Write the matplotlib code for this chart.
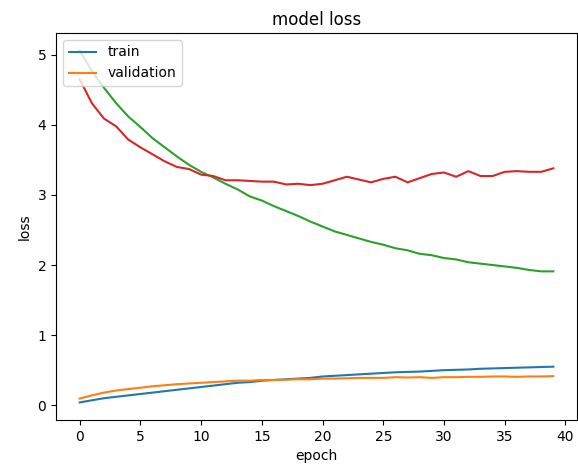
import matplotlib
matplotlib.use('Agg')
import matplotlib.pyplot as plt

epochs = list(range(40))
train = [0.04, 0.07, 0.10, 0.12, 0.14, 0.16, 0.18, 0.20, 0.22, 0.24,
         0.26, 0.28, 0.30, 0.32, 0.33, 0.35, 0.36, 0.37, 0.38, 0.39,
         0.41, 0.42, 0.43, 0.44, 0.45, 0.46, 0.47, 0.475, 0.48, 0.49,
         0.50, 0.505, 0.51, 0.52, 0.525, 0.53, 0.535, 0.54, 0.545, 0.55]
validation = [0.095, 0.14, 0.18, 0.21, 0.23, 0.25, 0.27, 0.285, 0.30, 0.31,
              0.32, 0.33, 0.34, 0.35, 0.35, 0.36, 0.36, 0.365, 0.37, 0.37,
              0.38, 0.38, 0.385, 0.39, 0.39, 0.39, 0.40, 0.395, 0.40, 0.39,
              0.40, 0.40, 0.405, 0.405, 0.41, 0.41, 0.405, 0.41, 0.41, 0.415]
loss_c = [5.06, 4.77, 4.53, 4.31, 4.12, 3.97, 3.81, 3.68, 3.55, 3.43,
          3.33, 3.25, 3.16, 3.08, 2.98, 2.92, 2.84, 2.77, 2.70, 2.62,
          2.55, 2.48, 2.43, 2.38, 2.33, 2.29, 2.24, 2.21, 2.16, 2.14,
          2.10, 2.08, 2.04, 2.02, 2.00, 1.98, 1.96, 1.93, 1.91, 1.91]
loss_d = [4.65, 4.31, 4.09, 3.98, 3.79, 3.68, 3.58, 3.48, 3.40, 3.37,
          3.29, 3.27, 3.21, 3.21, 3.20, 3.19, 3.19, 3.15, 3.16, 3.14,
          3.16, 3.21, 3.26, 3.22, 3.18, 3.23, 3.26, 3.18, 3.24, 3.30,
          3.32, 3.26, 3.34, 3.27, 3.27, 3.33, 3.34, 3.33, 3.33, 3.38]

fig = plt.figure(figsize=(5.78, 4.66), dpi=100)
ax = fig.add_axes([56 / 578, 1 - 420 / 466, 521 / 578, 387 / 466])
ax.plot(epochs, train)
ax.plot(epochs, validation)
ax.plot(epochs, loss_c)
ax.plot(epochs, loss_d)
ax.set_title('model loss')
ax.set_ylabel('loss')
ax.set_xlabel('epoch')
ax.legend(['train', 'validation'], loc='upper left')
fig.savefig('out.png')
